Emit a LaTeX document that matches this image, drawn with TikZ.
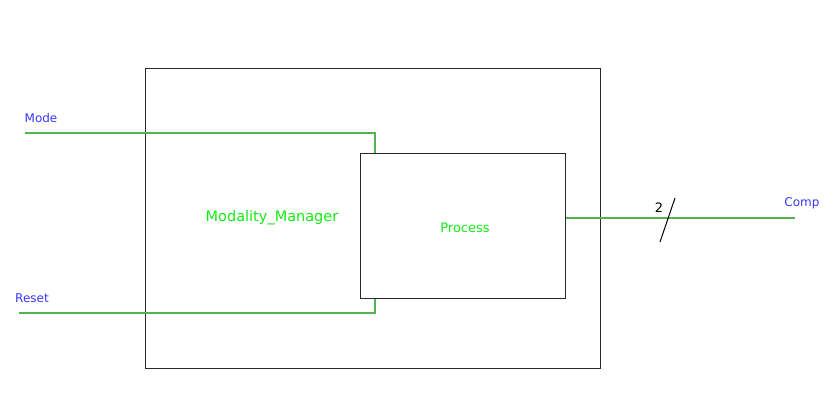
\documentclass[tikz,border=0pt]{standalone}
\usepackage{fontspec}
\setmainfont{DejaVu Sans}
\usetikzlibrary{positioning}

\definecolor{wire}{RGB}{80,180,80}
\definecolor{portblue}{RGB}{55,55,255}
\definecolor{namegreen}{RGB}{20,235,20}
\definecolor{edge}{RGB}{40,40,40}

\begin{document}
\begin{tikzpicture}[x=1pt,y=-1pt,
        blk/.style={draw=edge, line width=1pt, inner sep=0pt, anchor=north west},
        w/.style={draw=wire, line width=1.1pt},
        port/.style={text=portblue, inner sep=0pt, font=\fontsize{12}{14}\selectfont},
        blkname/.style={text=namegreen, inner sep=0pt}]
    \useasboundingbox (0,0) rectangle (827,402);

    % blocks
    \node[blk, minimum width=455pt, minimum height=300pt] (mm) at (145,68) {};
    \node[blk, minimum width=205pt, minimum height=145pt] (proc) at (360,153) {};
    \node[blkname, font=\fontsize{14.5}{17}\selectfont] (mmname) at (272,218) {Modality\_Manager};
    \node[blkname, font=\fontsize{13}{15}\selectfont] (procname) at (465,228) {Process};

    % ports
    \coordinate (modein) at (25,133);
    \coordinate (resetin) at (19,313);
    \coordinate (compout) at (795,218);
    \node[port] (modelbl) at (41,118) {Mode};
    \node[port] (resetlbl) at (32,298) {Reset};
    \node[port] (complbl) at (802,203) {Comp};

    % wires
    \draw[w] (modein) -| ([xshift=15pt]proc.north west);
    \draw[w] (resetin) -| ([xshift=15pt]proc.south west);
    \draw[w] (proc.east |- compout) -- (compout);

    % bus width
    \coordinate (bus1) at (660,242);
    \coordinate (bus2) at (675,198);
    \draw[black, line width=1pt] (bus1) -- (bus2);
    \node[inner sep=0pt, font=\fontsize{13}{15}\selectfont] (buswidth) at (659,208) {2};
\end{tikzpicture}
\end{document}
